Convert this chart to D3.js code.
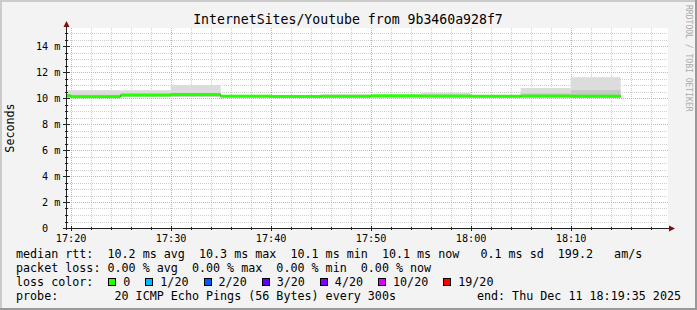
<!DOCTYPE html>
<html><head><meta charset="utf-8">
<script src="https://cdn.jsdelivr.net/npm/d3@7"></script>
<style>
body{margin:0;background:#fff}
svg text{font-family:"DejaVu Sans Mono",monospace;white-space:pre}
</style>
</head><body><svg id="c" width="697" height="310" xmlns="http://www.w3.org/2000/svg"></svg>
<script>
// ---- data ----
const intervalStarts = ["17:15","17:20","17:25","17:30","17:35","17:40","17:45","17:50","17:55","18:00","18:05","18:10"];
const medianMs   = [10.18, 10.10, 10.23, 10.26, 10.14, 10.12, 10.13, 10.17, 10.15, 10.13, 10.15, 10.14];
const smokeLoMs  = [10.02, 10.00, 10.10, 10.10, 10.05, 10.05, 10.05, 10.05, 10.05, 10.05, 10.05, 10.00];
const smokeMidMs = [10.30, 10.25, 10.30, 10.40, 10.20, 10.18, 10.20, 10.20, 10.25, 10.20, 10.35, 10.60];
const smokeHiMs  = [10.60, 10.60, 10.60, 11.00, 10.22, 10.20, 10.30, 10.25, 10.40, 10.25, 10.77, 11.60];
const yTickValues = [0, 2, 4, 6, 8, 10, 12, 14];
const yTickLabels = ["0  ", "2 m", "4 m", "6 m", "8 m", "10 m", "12 m", "14 m"];
const xTickLabels = ["17:20", "17:30", "17:40", "17:50", "18:00", "18:10"];
const lossLabels = ["0", "1/20", "2/20", "3/20", "4/20", "10/20", "19/20"];
const lossColors = ["#26ff00", "#00b8ff", "#0059ff", "#5e00ff", "#7e00ff", "#dd00ff", "#ff0000"];
const titleText = "InternetSites/Youtube from 9b3460a928f7";
const legendRtt = "median rtt:  10.2 ms avg  10.3 ms max  10.1 ms min  10.1 ms now   0.1 ms sd  199.2   am/s";
const legendLoss = "packet loss: 0.00 % avg  0.00 % max  0.00 % min  0.00 % now";
const legendColorTitle = "loss color:";
const legendProbe = "probe:        20 ICMP Echo Pings (56 Bytes) every 300s";
const legendEnd = "end: Thu Dec 11 18:19:35 2025";
const windowStart = "17:19:35", windowEnd = "18:19:35";

// ---- layout ----
const W = 697, H = 310;
const L = 66.5, R = 666.5, T = 28, B = 228;
const svg = d3.select("#c");
const pHM = d3.timeParse("%H:%M"), pHMS = d3.timeParse("%H:%M:%S");
const x = d3.scaleTime().domain([pHMS(windowStart), pHMS(windowEnd)]).range([L, R]);
const y = d3.scaleLinear().domain([0, 200/13]).range([B, T]);
const starts = intervalStarts.map(pHM);
const ends = starts.map(d => d3.timeMinute.offset(d, 5));

// background + frame
svg.append("rect").attr("width", W).attr("height", H).attr("fill", "#f3f3f3");
svg.append("path").attr("d", `M0,0H${W}V2H2V${H}H0Z`).attr("fill", "#cbcbcb");
svg.append("path").attr("d", `M${W},${H}H0V${H-2}H${W-2}V0H${W}Z`).attr("fill", "#999999");
svg.append("rect").attr("x", 66).attr("y", T).attr("width", 602).attr("height", B - T).attr("fill", "#ffffff");

const defs = svg.append("defs");
defs.append("clipPath").attr("id", "pc").append("rect").attr("x", 66.5).attr("y", T).attr("width", 601).attr("height", B - T);

// grid
const grid = svg.append("g");
const minorY = d3.range(0.5, 15.4, 0.5).filter(v => Math.abs(v/2 - Math.round(v/2)) > 1e-6);
const minorX = x.ticks(d3.timeMinute.every(2)).filter(d => d.getMinutes() % 10 !== 0);
const majorX = x.ticks(d3.timeMinute.every(10));
grid.selectAll(".hy").data(minorY).join("line")
  .attr("x1", 66).attr("x2", 668).attr("y1", d => Math.round(y(d)) + 0.5).attr("y2", d => Math.round(y(d)) + 0.5)
  .attr("stroke", "#cfcfcf").attr("stroke-dasharray", "1,1");
grid.selectAll(".vx").data(minorX).join("line")
  .attr("x1", d => Math.round(x(d)) + 0.5).attr("x2", d => Math.round(x(d)) + 0.5).attr("y1", T).attr("y2", B)
  .attr("stroke", "#cfcfcf").attr("stroke-dasharray", "1,1");
grid.selectAll(".my").data(yTickValues.filter(v => v > 0)).join("line")
  .attr("x1", 63).attr("x2", 668).attr("y1", d => Math.round(y(d)) + 0.5).attr("y2", d => Math.round(y(d)) + 0.5)
  .attr("stroke", "#f2a0a0").attr("stroke-dasharray", "1,1");
grid.selectAll(".mx").data(majorX).join("line")
  .attr("x1", d => Math.round(x(d)) + 0.5).attr("x2", d => Math.round(x(d)) + 0.5).attr("y1", T).attr("y2", B + 3)
  .attr("stroke", "#f2a0a0").attr("stroke-dasharray", "1,1");

// smoke + median
const plot = svg.append("g").attr("clip-path", "url(#pc)");
const idx = d3.range(intervalStarts.length);
plot.selectAll(".s1").data(idx).join("rect")
  .attr("x", i => x(starts[i])).attr("width", i => x(ends[i]) - x(starts[i]))
  .attr("y", i => y(smokeHiMs[i])).attr("height", i => y(smokeLoMs[i]) - y(smokeHiMs[i]))
  .attr("fill", "#dcdcdc");
plot.selectAll(".s2").data(idx).join("rect")
  .attr("x", i => x(starts[i])).attr("width", i => x(ends[i]) - x(starts[i]))
  .attr("y", i => y(smokeMidMs[i])).attr("height", i => y(smokeLoMs[i]) - y(smokeMidMs[i]))
  .attr("fill", "#c8c8c8");
const stepPts = [];
idx.forEach(i => { stepPts.push([starts[i], medianMs[i]]); });
stepPts.push([ends[ends.length - 1], medianMs[medianMs.length - 1]]);
plot.append("path").datum(stepPts)
  .attr("d", d3.line().x(d => x(d[0])).y(d => y(d[1])).curve(d3.curveStepAfter))
  .attr("fill", "none").attr("stroke", "#202020").attr("stroke-width", 1);
plot.selectAll(".med").data(idx).join("rect")
  .attr("x", i => x(starts[i])).attr("width", i => x(ends[i]) - x(starts[i]))
  .attr("y", i => y(medianMs[i] + 0.115)).attr("height", i => y(medianMs[i] - 0.115) - y(medianMs[i] + 0.115))
  .attr("fill", lossColors[0]);

// axes
const axisC = "#222";
svg.append("line").attr("x1", 66.5).attr("x2", 66.5).attr("y1", B + 2).attr("y2", 26).attr("stroke", axisC);
svg.append("line").attr("x1", 63).attr("x2", 670).attr("y1", B + 0.5).attr("y2", B + 0.5).attr("stroke", axisC);
svg.append("path").attr("d", `M63.5,27L66.5,21L69.5,27Z`).attr("fill", "#7f1010");
svg.append("path").attr("d", `M669,225.5L675,228.5L669,231.5Z`).attr("fill", "#7f1010");
// ticks
svg.selectAll(".ty").data(yTickValues).join("line")
  .attr("x1", 63).attr("x2", 70).attr("y1", d => Math.round(y(d)) + 0.5).attr("y2", d => Math.round(y(d)) + 0.5)
  .attr("stroke", axisC);
svg.selectAll(".tym").data(minorY).join("line")
  .attr("x1", 65).attr("x2", 68).attr("y1", d => Math.round(y(d)) + 0.5).attr("y2", d => Math.round(y(d)) + 0.5)
  .attr("stroke", axisC);
svg.selectAll(".tx").data(majorX).join("line")
  .attr("x1", d => Math.round(x(d)) + 0.5).attr("x2", d => Math.round(x(d)) + 0.5).attr("y1", B - 2).attr("y2", B + 3)
  .attr("stroke", axisC);
svg.selectAll(".txm").data(minorX).join("line")
  .attr("x1", d => Math.round(x(d)) + 0.5).attr("x2", d => Math.round(x(d)) + 0.5).attr("y1", B - 1).attr("y2", B + 2)
  .attr("stroke", axisC);

// tick labels (trailing blank unit keeps "0" aligned with the digits above)
const axisFont = 10.2, acw = axisFont * 0.602;
svg.selectAll(".yl").data(yTickValues).join("text")
  .attr("x", (d, i) => 60.5 - (yTickLabels[i].length - yTickLabels[i].trimEnd().length) * acw)
  .attr("y", (d) => y(d) + 3.6).attr("text-anchor", "end")
  .attr("font-size", axisFont).attr("fill", "#000").text((d, i) => yTickLabels[i].trimEnd());
svg.selectAll(".xl").data(majorX).join("text")
  .attr("x", d => x(d) + 0.5).attr("y", 241.5).attr("text-anchor", "middle")
  .attr("font-size", axisFont).attr("fill", "#000").text((d, i) => xTickLabels[i]);

// title, unit, watermark
svg.append("text").attr("x", 348).attr("y", 24).attr("text-anchor", "middle")
  .attr("font-size", 13.2).attr("fill", "#000").text(titleText);
svg.append("text").attr("transform", "translate(14,128) rotate(-90)").attr("text-anchor", "middle")
  .attr("font-size", 11.7).attr("fill", "#000").text("Seconds");
svg.append("text").attr("transform", "translate(685.5,5) rotate(90)").attr("text-anchor", "start")
  .attr("font-size", 8.05).attr("fill", "#aaaaaa").text("RRDTOOL / TOBI OETIKER");

// legend
const lf = 11.7, cw = lf * 0.602;
const lg = svg.append("g").attr("font-size", lf).attr("fill", "#000");
lg.append("text").attr("x", 16).attr("y", 258).text(legendRtt);
lg.append("text").attr("x", 16).attr("y", 272).text(legendLoss);
lg.append("text").attr("x", 16).attr("y", 286).text(legendColorTitle);
lg.append("text").attr("x", 16).attr("y", 300).text(legendProbe);
lg.append("text").attr("x", 681).attr("y", 300).attr("text-anchor", "end").text(legendEnd);
let cx = 108.3;
lossLabels.forEach((lab, i) => {
  lg.append("rect").attr("x", Math.round(cx) + 0.5).attr("y", 278.5).attr("width", 7).attr("height", 7)
    .attr("fill", lossColors[i]).attr("stroke", "#000");
  lg.append("text").attr("x", cx + 15).attr("y", 286).text(lab);
  cx = cx + 15 + lab.length * cw + 15;
});
</script>
</body></html>
